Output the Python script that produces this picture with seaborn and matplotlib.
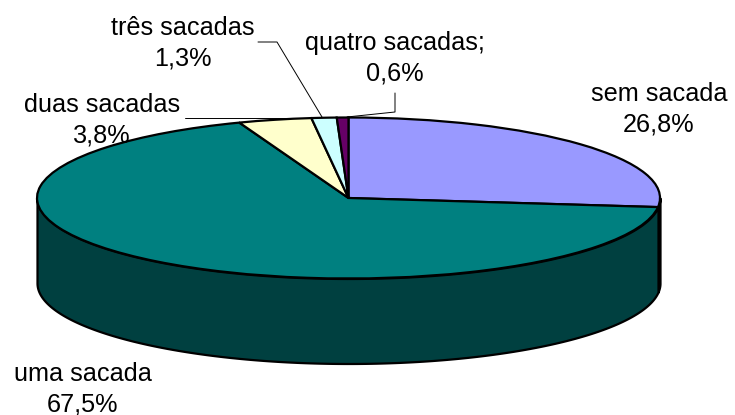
import numpy as np
import matplotlib
matplotlib.use('Agg')
import matplotlib.pyplot as plt
from matplotlib.transforms import Affine2D
import seaborn as sns

categories = ['sem sacada', 'uma sacada', 'duas sacadas', 'três sacadas', 'quatro sacadas;']
values = [26.8, 67.5, 3.8, 1.3, 0.6]
top_colors = ['#9999FF', '#008080', '#FFFFCC', '#CCFFFF', '#660066']
side_colors = ['#4D4D80', '#004040', '#808066', '#668080', '#330033']
label_pos = [(659, 109), (83, 389), (102, 120), (183, 43), (395, 58)]

W, H = 735, 415
cx, cy, rx, ry, depth = 348.5, 198, 311.5, 80.5, 85

sns.set_theme(style='white')
plt.rcParams['font.family'] = ['Liberation Sans', 'DejaVu Sans']

fig = plt.figure(figsize=(W / 100, H / 100), dpi=100)
ax = fig.add_axes([0, 0, 1, 1])

# pie is a unit circle, axis limits squash it into the ellipse
wedges, _ = ax.pie(values, colors=top_colors, startangle=90, counterclock=False, radius=1,
                   wedgeprops={'edgecolor': 'black', 'linewidth': 1.6, 'zorder': 3})
ax.set_aspect('auto')
ax.set_xlim(-cx / rx, (W - cx) / rx)
ax.set_ylim(-(H - cy) / ry, cy / ry)
d = depth / ry

# side wall, only the part of each slice facing the viewer
for w, col in zip(wedges, side_colors):
    a, b = max(w.theta1, -180), min(w.theta2, 0)
    if a >= b:
        continue
    t = np.radians(np.linspace(a, b, 200))
    ax.fill_between(np.cos(t), np.sin(t), np.sin(t) - d, facecolor=col,
                    edgecolor='black', linewidth=1.6, zorder=2)

# everything else is placed in reference pixels
px = Affine2D().scale(1, -1).translate(0, H)
leaders = [([258, 277, 322], [42, 42, 117]),
           ([395, 395, 347], [93, 112, 117]),
           ([185, 310], [118, 118])]
for xs, ys in leaders:
    ax.plot(xs, ys, color='black', linewidth=0.7, transform=px, zorder=4, clip_on=False)

for name, v, (x, y) in zip(categories, values, label_pos):
    txt = f'{name}\n{v:.1f}%'.replace('.', ',')
    ax.text(x, y, txt, transform=px, ha='center', va='center', fontsize=18.2,
            color='black', linespacing=1.36, zorder=5)

fig.savefig('out.png', dpi=100, facecolor='white')
